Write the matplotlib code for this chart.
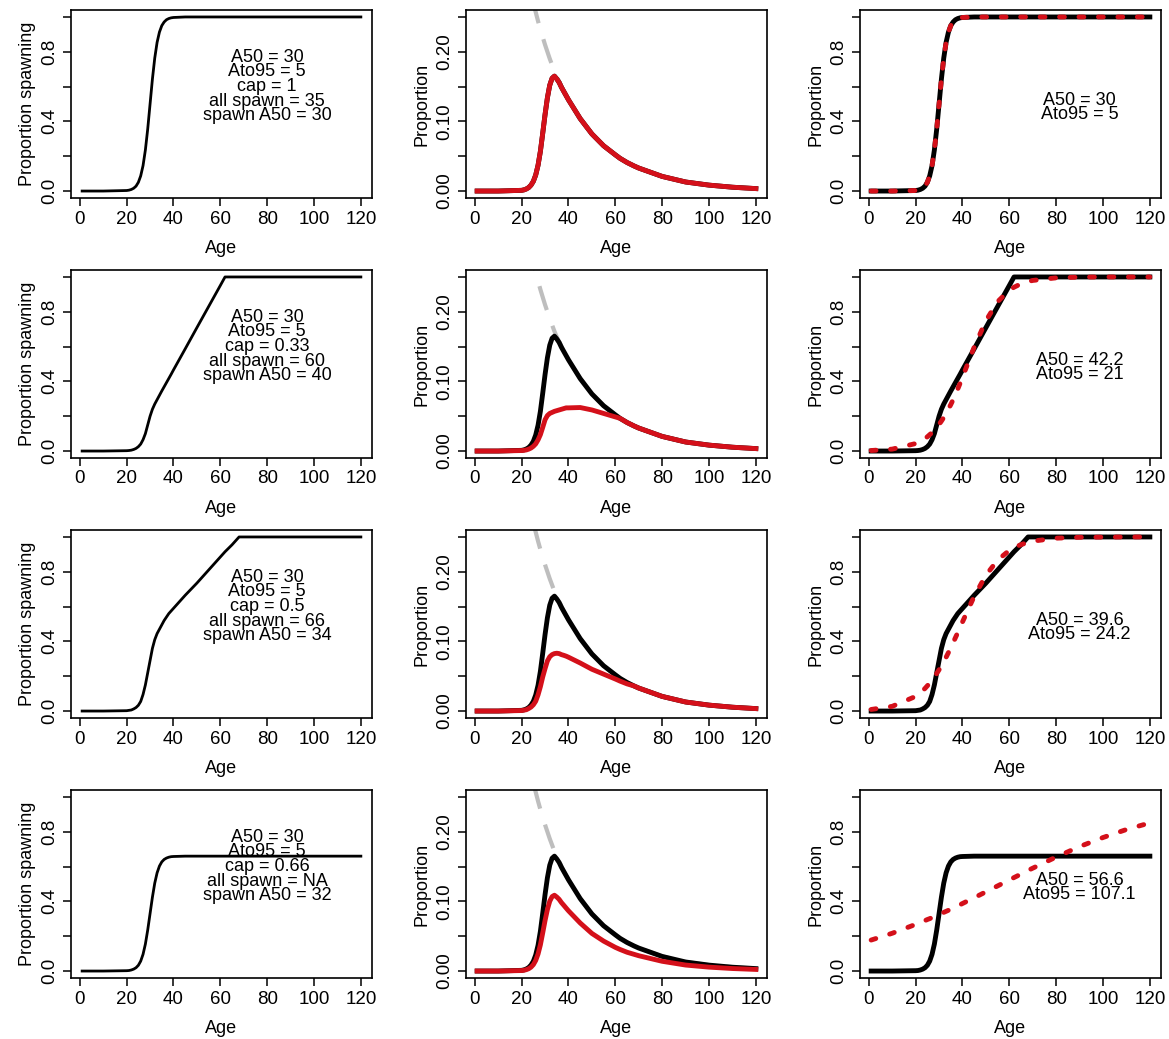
import numpy as np
import matplotlib.pyplot as plt

plt.rcParams['font.family'] = ['Liberation Sans', 'DejaVu Sans']

ages = [1, 10,
        20, 21, 22, 23, 24, 25, 26, 27, 28, 29, 30, 31, 32, 33, 34, 35, 36, 37, 38, 39, 40,
        45, 50, 55, 60, 62, 65, 68, 70, 80, 90, 100, 110, 120]

# column 1: proportion spawning for each cap scenario
spawn_cap1 = [0, 0,
              0.003, 0.005, 0.009, 0.016, 0.028, 0.05, 0.087, 0.146, 0.236, 0.357, 0.5, 0.643, 0.764, 0.854, 0.913, 0.95, 0.971, 0.984, 0.991, 0.995, 0.997,
              1, 1, 1, 1, 1, 1, 1, 1, 1, 1, 1, 1, 1]
spawn_cap033 = [0, 0,
                0.002, 0.003, 0.005, 0.009, 0.015, 0.025, 0.04, 0.065, 0.10, 0.15, 0.20, 0.24, 0.27, 0.295, 0.32, 0.345, 0.369, 0.393, 0.417, 0.441, 0.466,
                0.587, 0.709, 0.83, 0.951, 1, 1, 1, 1, 1, 1, 1, 1, 1]
spawn_cap05 = [0, 0,
               0.002, 0.004, 0.006, 0.012, 0.02, 0.033, 0.055, 0.095, 0.15, 0.22, 0.29, 0.36, 0.41, 0.445, 0.47, 0.495, 0.52, 0.54, 0.56, 0.575, 0.59,
               0.665, 0.735, 0.81, 0.885, 0.915, 0.955, 1, 1, 1, 1, 1, 1, 1]
spawn_cap066 = [0, 0,
                0.002, 0.003, 0.006, 0.011, 0.019, 0.033, 0.057, 0.096, 0.155, 0.236, 0.33, 0.424, 0.505, 0.564, 0.603, 0.627, 0.641, 0.649, 0.654, 0.657, 0.658,
                0.66, 0.66, 0.66, 0.66, 0.66, 0.66, 0.66, 0.66, 0.66, 0.66, 0.66, 0.66, 0.66]

# column 2: age composition (all fish, mature fish, spawners)
all_prop = [0.8, 0.55,
            0.346, 0.329, 0.313, 0.298, 0.284, 0.270, 0.257, 0.244, 0.232, 0.221, 0.210, 0.200, 0.190, 0.181, 0.172, 0.164, 0.157, 0.150, 0.143, 0.137, 0.131,
            0.104, 0.082, 0.065, 0.052, 0.047, 0.041, 0.036, 0.033, 0.021, 0.013, 0.0085, 0.0055, 0.0035]
mature_prop = [0, 0,
               0.001, 0.0017, 0.003, 0.005, 0.0085, 0.014, 0.023, 0.037, 0.057, 0.083, 0.110, 0.134, 0.152, 0.162, 0.165, 0.161, 0.156, 0.149, 0.143, 0.137, 0.131,
               0.104, 0.082, 0.065, 0.052, 0.047, 0.041, 0.036, 0.033, 0.021, 0.013, 0.0085, 0.0055, 0.0035]
spawners_cap1 = [0, 0,
                 0.001, 0.0017, 0.003, 0.005, 0.0085, 0.014, 0.023, 0.037, 0.057, 0.083, 0.110, 0.134, 0.152, 0.162, 0.165, 0.161, 0.156, 0.149, 0.143, 0.137, 0.131,
                 0.104, 0.082, 0.065, 0.052, 0.047, 0.041, 0.036, 0.033, 0.021, 0.013, 0.0085, 0.0055, 0.0035]
spawners_cap033 = [0, 0,
                   0.0007, 0.001, 0.0016, 0.0027, 0.0043, 0.0068, 0.0103, 0.016, 0.0235, 0.034, 0.045, 0.051, 0.054, 0.0555, 0.057, 0.058, 0.059, 0.060, 0.061, 0.062, 0.062,
                   0.0625, 0.059, 0.054, 0.049, 0.047, 0.041, 0.036, 0.033, 0.021, 0.013, 0.0085, 0.0055, 0.0035]
spawners_cap05 = [0, 0,
                  0.0007, 0.0013, 0.0019, 0.0036, 0.0057, 0.009, 0.0141, 0.0232, 0.035, 0.049, 0.061, 0.072, 0.078, 0.081, 0.0825, 0.083, 0.0825, 0.081, 0.080, 0.0788, 0.0773,
                  0.069, 0.060, 0.053, 0.046, 0.043, 0.039, 0.036, 0.033, 0.021, 0.013, 0.0085, 0.0055, 0.0035]
spawners_cap066 = [0, 0,
                   0.0007, 0.0011, 0.002, 0.0033, 0.0056, 0.0092, 0.0152, 0.0244, 0.0376, 0.0548, 0.0726, 0.0884, 0.1003, 0.1069, 0.1089, 0.1063, 0.103, 0.0983, 0.0944, 0.0904, 0.0865,
                   0.069, 0.054, 0.043, 0.034, 0.031, 0.027, 0.024, 0.022, 0.014, 0.0086, 0.0056, 0.0036, 0.0023]

# column 3: fitted logistic curves (red dotted)
fit_a30 = [0, 0,
           0.003, 0.005, 0.009, 0.016, 0.028, 0.05, 0.087, 0.146, 0.236, 0.357, 0.5, 0.643, 0.764, 0.854, 0.913, 0.95, 0.971, 0.984, 0.991, 0.995, 0.997,
           1, 1, 1, 1, 1, 1, 1, 1, 1, 1, 1, 1, 1]
fit_a422 = [0.003, 0.011,
            0.043, 0.049, 0.056, 0.063, 0.072, 0.082, 0.094, 0.106, 0.12, 0.136, 0.153, 0.172, 0.193, 0.216, 0.241, 0.267, 0.295, 0.325, 0.357, 0.39, 0.424,
            0.597, 0.749, 0.858, 0.924, 0.941, 0.961, 0.974, 0.98, 0.995, 0.999, 1, 1, 1]
fit_a396 = [0.009, 0.027,
            0.084, 0.094, 0.105, 0.117, 0.13, 0.145, 0.16, 0.178, 0.196, 0.216, 0.237, 0.26, 0.284, 0.309, 0.336, 0.364, 0.392, 0.422, 0.451, 0.482, 0.512,
            0.659, 0.78, 0.867, 0.923, 0.939, 0.956, 0.969, 0.976, 0.993, 0.998, 0.999, 1, 1]
fit_a566 = [0.178, 0.217,
            0.268, 0.274, 0.279, 0.285, 0.29, 0.296, 0.301, 0.307, 0.313, 0.319, 0.325, 0.331, 0.337, 0.343, 0.349, 0.356, 0.362, 0.368, 0.375, 0.381, 0.388,
            0.421, 0.455, 0.489, 0.523, 0.537, 0.557, 0.578, 0.591, 0.655, 0.715, 0.767, 0.813, 0.851]

spawn_rows = [spawn_cap1, spawn_cap033, spawn_cap05, spawn_cap066]
spawner_rows = [spawners_cap1, spawners_cap033, spawners_cap05, spawners_cap066]
fit_rows = [fit_a30, fit_a422, fit_a396, fit_a566]

scenario_text = ["A50 = 30\nAto95 = 5\ncap = 1\nall spawn = 35\nspawn A50 = 30",
                 "A50 = 30\nAto95 = 5\ncap = 0.33\nall spawn = 60\nspawn A50 = 40",
                 "A50 = 30\nAto95 = 5\ncap = 0.5\nall spawn = 66\nspawn A50 = 34",
                 "A50 = 30\nAto95 = 5\ncap = 0.66\nall spawn = NA\nspawn A50 = 32"]
fit_text = ["A50 = 30\nAto95 = 5", "A50 = 42.2\nAto95 = 21",
            "A50 = 39.6\nAto95 = 24.2", "A50 = 56.6\nAto95 = 107.1"]

RED = '#d4101a'
GREY = '#bebebe'

W, H = 1169, 1039
fig = plt.figure(figsize=(W / 100, H / 100), dpi=100)

col_left = [71, 466, 860]
col_width = 301
row_top = [10, 270, 530, 790]
row_height = 188


def make_ax(r, c, ylab, yticks, ylabels, ylim):
    ax = fig.add_axes([col_left[c] / W, 1 - (row_top[r] + row_height) / H,
                       col_width / W, row_height / H])
    ax.set_xlim(-3.76, 124.76)
    ax.set_ylim(*ylim)
    ax.set_xticks([0, 20, 40, 60, 80, 100, 120])
    ax.set_yticks(yticks)
    ax.set_yticklabels(ylabels, rotation=90, va='center')
    ax.tick_params(direction='out', length=6, width=1.1, labelsize=13.5, pad=3)
    for s in ax.spines.values():
        s.set_linewidth(1.2)
    ax.set_xlabel('Age', fontsize=13, labelpad=9)
    ax.set_ylabel(ylab, fontsize=13, labelpad=4)
    return ax


for r in range(4):
    # proportion spawning
    ax = make_ax(r, 0, 'Proportion spawning', [0, 0.2, 0.4, 0.6, 0.8, 1.0],
                 ['0.0', '', '0.4', '', '0.8', ''], (-0.04, 1.04))
    ax.plot(ages, spawn_rows[r], color='black', lw=2)
    ax.text(80, 0.6, scenario_text[r], ha='center', va='center', fontsize=13, linespacing=0.82)

    # age composition
    ax = make_ax(r, 1, 'Proportion', [0, 0.05, 0.10, 0.15, 0.20, 0.25],
                 ['0.00', '', '0.10', '', '0.20', ''], (-0.01, 0.26))
    ax.plot(ages, all_prop, color=GREY, lw=3, linestyle=(0, (6, 4)))
    ax.plot(ages, mature_prop, color='black', lw=3.5)
    ax.plot(ages, spawner_rows[r], color=RED, lw=3.5)

    # fitted logistic
    ax = make_ax(r, 2, 'Proportion', [0, 0.2, 0.4, 0.6, 0.8, 1.0],
                 ['0.0', '', '0.4', '', '0.8', ''], (-0.04, 1.04))
    ax.plot(ages, spawn_rows[r], color='black', lw=3.5)
    ax.plot(ages, fit_rows[r], color=RED, lw=3.5, linestyle=(0, (1.0, 3.0)),
            dash_capstyle='round')
    ax.text(90, 0.48, fit_text[r], ha='center', va='center', fontsize=13, linespacing=0.82)

fig.savefig('out.png', dpi=100)
